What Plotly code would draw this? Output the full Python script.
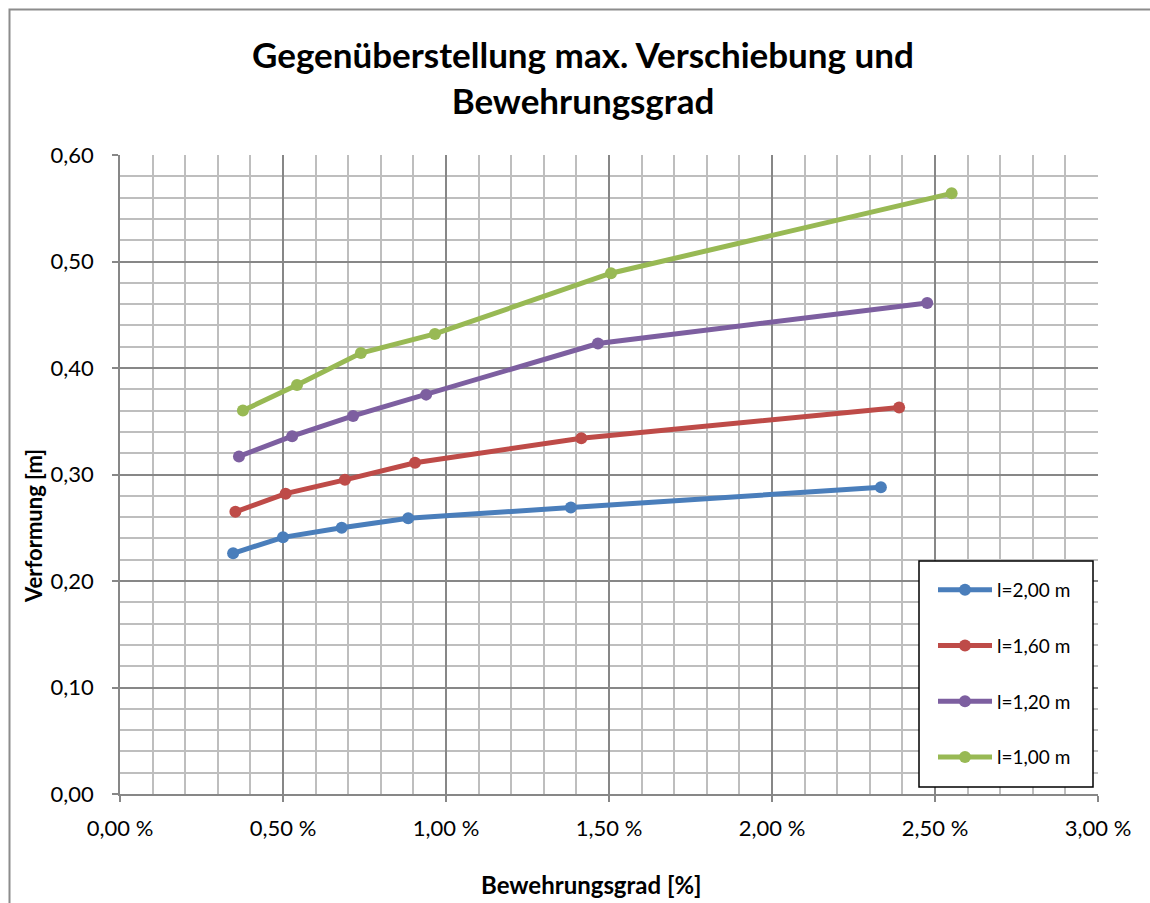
import plotly.graph_objects as go

# Bewehrungsgrad [%] und Verformung [m] je Länge l
series_names = ["l=2,00 m", "l=1,60 m", "l=1,20 m", "l=1,00 m"]
colors = ["#4A7EBB", "#BE4B48", "#7D5FA0", "#98B954"]

x_l200 = [0.347, 0.500, 0.680, 0.884, 1.383, 2.334]
y_l200 = [0.226, 0.241, 0.250, 0.259, 0.269, 0.288]

x_l160 = [0.354, 0.508, 0.690, 0.905, 1.415, 2.390]
y_l160 = [0.265, 0.282, 0.295, 0.311, 0.334, 0.363]

x_l120 = [0.365, 0.528, 0.715, 0.939, 1.466, 2.476]
y_l120 = [0.317, 0.336, 0.355, 0.375, 0.423, 0.461]

x_l100 = [0.377, 0.543, 0.739, 0.966, 1.506, 2.551]
y_l100 = [0.360, 0.384, 0.414, 0.432, 0.489, 0.564]

x_ticks = [0.0, 0.5, 1.0, 1.5, 2.0, 2.5, 3.0]
y_ticks = [0.0, 0.1, 0.2, 0.3, 0.4, 0.5, 0.6]

xs = [x_l200, x_l160, x_l120, x_l100]
ys = [y_l200, y_l160, y_l120, y_l100]


def de_num(v):
    return f"{v:.2f}".replace(".", ",")


x_ticktext = [de_num(v) + " %" for v in x_ticks]
y_ticktext = [de_num(v) for v in y_ticks]

FONT = "Lato, 'Open Sans', sans-serif"

fig = go.Figure()
for i, (name, color, x, y) in enumerate(zip(series_names, colors, xs, ys)):
    fig.add_trace(go.Scatter(
        x=x, y=y, name=name, mode="lines+markers", legendgroup=f"g{i}",
        line=dict(color=color, width=5),
        marker=dict(color=color, size=12),
    ))

W, H = 1150, 903
L, R, T, B = 120, 52, 155, 109
pw, ph = W - L - R, H - T - B


def px_x(p):
    return (p - L) / pw


def px_y(p):
    return (H - B - p) / ph


fig.update_layout(
    width=W, height=H,
    margin=dict(l=L, r=R, t=T, b=B),
    paper_bgcolor="white", plot_bgcolor="white",
    font=dict(family=FONT, color="black", size=18),
    xaxis=dict(
        range=[0, 3.0], tickmode="array", tickvals=x_ticks, ticktext=x_ticktext,
        showgrid=True, gridcolor="#878787", gridwidth=1.6,
        minor=dict(dtick=0.1, showgrid=True, gridcolor="#bebebe", gridwidth=1.6,
                   ticks=""),
        showline=True, linecolor="#878787", linewidth=1.6,
        ticks="outside", ticklen=6, tickcolor="#878787", tickwidth=1.6,
        ticklabelstandoff=8,
        zeroline=False,
        tickfont=dict(family=FONT, size=22),
    ),
    yaxis=dict(
        range=[0, 0.6], tickmode="array", tickvals=y_ticks, ticktext=y_ticktext,
        showgrid=True, gridcolor="#878787", gridwidth=1.6,
        minor=dict(dtick=0.02, showgrid=True, gridcolor="#bebebe", gridwidth=1.6,
                   ticks=""),
        showline=True, linecolor="#878787", linewidth=1.6,
        ticks="outside", ticklen=6, tickcolor="#878787", tickwidth=1.6,
        ticklabelstandoff=14,
        zeroline=False,
        tickfont=dict(family=FONT, size=22),
    ),
    legend=dict(
        x=px_x(933), xanchor="left",
        y=px_y(571), yanchor="top",
        bgcolor="rgba(0,0,0,0)", borderwidth=0,
        font=dict(family=FONT, size=19),
        traceorder="grouped", tracegroupgap=28, itemwidth=54,
    ),
    showlegend=True,
)

# chart title
fig.add_annotation(
    text="<b>Gegenüberstellung max. Verschiebung und<br>Bewehrungsgrad</b>",
    xref="paper", yref="paper", x=px_x(583), y=px_y(77),
    xanchor="center", yanchor="middle", align="center",
    showarrow=False, font=dict(family=FONT, size=35),
)

# axis titles
fig.add_annotation(
    text="<b>Bewehrungsgrad [%]</b>", xref="paper", yref="paper",
    x=px_x(591), y=px_y(884), xanchor="center", yanchor="middle",
    showarrow=False, font=dict(family=FONT, size=24),
)
fig.add_annotation(
    text="<b>Verformung [m]</b>", xref="paper", yref="paper",
    x=px_x(33), y=px_y(526), xanchor="center", yanchor="middle",
    textangle=-90, showarrow=False, font=dict(family=FONT, size=22),
)

# outer chart frame
fig.add_shape(
    type="rect", xref="paper", yref="paper",
    x0=px_x(9.5), x1=px_x(W + 20), y0=px_y(H + 20), y1=px_y(9.5),
    line=dict(color="#8c8c8c", width=2), fillcolor="rgba(0,0,0,0)",
    layer="below",
)

# legend frame
fig.add_shape(
    type="rect", xref="paper", yref="paper",
    x0=px_x(919), x1=px_x(1093), y0=px_y(787), y1=px_y(561),
    line=dict(color="black", width=1.5), fillcolor="white",
    layer="above",
)

fig.write_html("out.html")
